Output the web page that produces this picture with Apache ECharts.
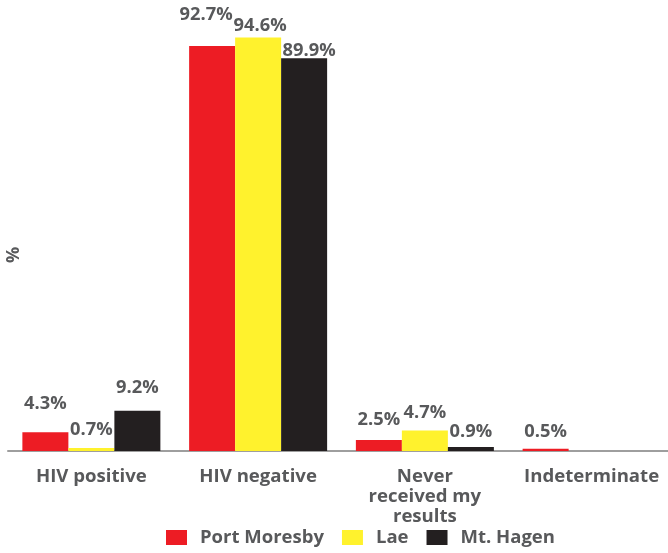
<!DOCTYPE html>
<html>
<head>
<meta charset="utf-8">
<script src="https://cdn.jsdelivr.net/npm/echarts@6/dist/echarts.min.js"></script>
<style>
  html, body { margin: 0; padding: 0; background: #fff; overflow: hidden; }
  /* plot area runs slightly past the right edge of the page */
  #chart { width: 676px; height: 553px; }
</style>
</head>
<body>
<div id="chart"></div>
<script>
// HIV test result outcomes by city (%)
var categories = ['HIV positive', 'HIV negative', 'Never\nreceived my\nresults', 'Indeterminate'];
var seriesNames = ['Port Moresby', 'Lae', 'Mt. Hagen'];
var portMoresby = [4.3, 92.7, 2.5, 0.5];
var lae = [0.7, 94.6, 4.7, null];
var mtHagen = [9.2, 89.9, 0.9, null];

// Label placement tweaks (distance above the bar, horizontal nudge) so neighbouring labels don't collide
var labelLift = [
  [19, 22, 11, 8],
  [9, 3, 9, 0],
  [14, -2, 6, 0]
];
var labelShiftX = [
  [0, -6, 0, 0],
  [0, 2, 0, 0],
  [0, 5, 0, 0]
];

var colors = ['#ED1C24', '#FFF22D', '#231F20'];
var textColor = '#58595B';
var fontFamily = '"Open Sans", "DejaVu Sans", sans-serif';

function buildData(values, s) {
  return values.map(function (v, i) {
    if (v === null) return null;
    return {
      value: v,
      label: { distance: labelLift[s][i], offset: [labelShiftX[s][i], 0] }
    };
  });
}

var allValues = [portMoresby, lae, mtHagen];
var series = allValues.map(function (vals, s) {
  return {
    name: seriesNames[s],
    type: 'bar',
    barWidth: 46,
    barGap: '0%',
    itemStyle: { color: colors[s] },
    label: {
      show: true,
      position: 'top',
      formatter: function (p) { return p.value + '%'; },
      color: textColor,
      fontFamily: fontFamily,
      fontWeight: 'bold',
      fontSize: 18.3
    },
    data: buildData(vals, s)
  };
});

var chart = echarts.init(document.getElementById('chart'), null, { renderer: 'canvas' });
chart.setOption({
  animation: false,
  backgroundColor: '#fff',
  grid: { left: 8, top: 14, right: 1, bottom: 102, containLabel: false },
  xAxis: {
    type: 'category',
    data: categories,
    axisLine: { show: true, lineStyle: { color: '#9E9E9E', width: 2 } },
    axisTick: { show: false },
    axisLabel: {
      color: textColor,
      fontFamily: fontFamily,
      fontWeight: 'bold',
      fontSize: 18.6,
      lineHeight: 20,
      margin: 16,
      interval: 0
    }
  },
  yAxis: {
    type: 'value',
    min: 0,
    max: 100,
    axisLine: { show: false },
    axisTick: { show: false },
    axisLabel: { show: false },
    splitLine: { show: false }
  },
  legend: {
    left: 166,
    top: 528,
    padding: 0,
    itemWidth: 21,
    itemHeight: 15,
    itemGap: 18,
    icon: 'rect',
    textStyle: {
      color: textColor,
      fontFamily: fontFamily,
      fontWeight: 'bold',
      fontSize: 18.5,
      padding: [0, 0, 0, 8]
    },
    data: seriesNames
  },
  graphic: [{
    type: 'text',
    x: 14,
    y: 255,
    rotation: Math.PI / 2,
    style: {
      text: '%',
      fill: textColor,
      font: 'bold 18px ' + fontFamily,
      textAlign: 'center',
      textVerticalAlign: 'middle'
    }
  }],
  series: series
});
</script>
</body>
</html>
